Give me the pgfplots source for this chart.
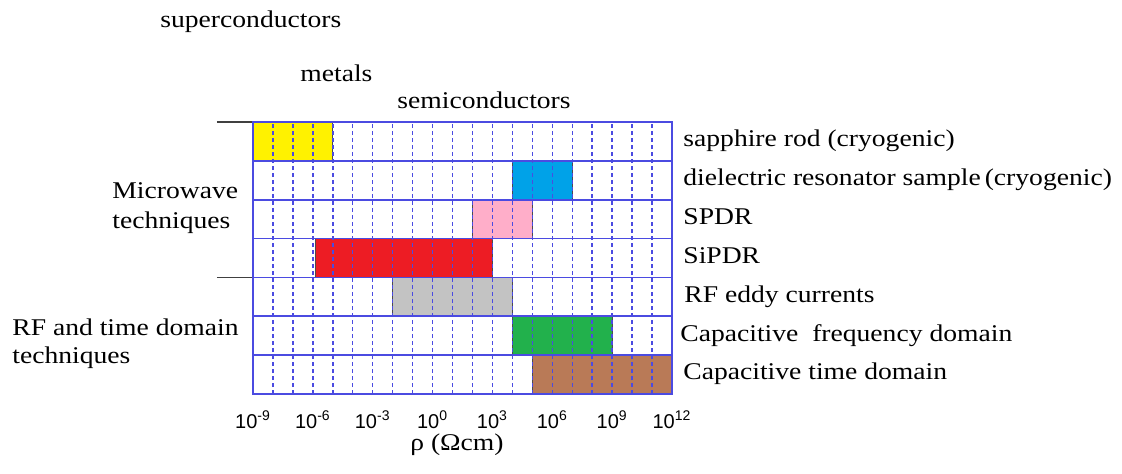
\documentclass[border=0pt]{standalone}
\usepackage{fontspec}
\setmainfont{Liberation Serif}[FakeStretch=1.15]
\setsansfont{Liberation Sans}
\usepackage{pgfplots}
\pgfplotsset{compat=1.18}

\definecolor{gridblue}{RGB}{75,75,225}
\definecolor{cyellow}{RGB}{255,242,0}
\definecolor{cblue}{RGB}{0,162,232}
\definecolor{cpink}{RGB}{255,174,201}
\definecolor{cred}{RGB}{237,28,36}
\definecolor{cgray}{RGB}{195,195,195}
\definecolor{cgreen}{RGB}{34,177,76}
\definecolor{cbrown}{RGB}{185,122,87}

\tikzset{lab/.style={anchor=west, inner sep=0pt, font=\fontsize{12}{14.5}\selectfont,
  text height=1.6ex, text depth=0.45ex}}

\begin{document}
\begin{tikzpicture}[x=1pt,y=1pt]
\useasboundingbox (0,0) rectangle (561,236.5);
\begin{axis}[
    at={(126.5pt,39.5pt)}, anchor=south west,
    scale only axis, width=209.5pt, height=136pt,
    xmode=log, xmin=1e-9, xmax=1e12,
    ymin=0, ymax=7,
    clip=false, axis on top,
    xtick={1e-9,1e-8,1e-7,1e-6,1e-5,1e-4,1e-3,1e-2,1e-1,1,1e1,1e2,1e3,1e4,1e5,1e6,1e7,1e8,1e9,1e10,1e11,1e12},
    xticklabels={10\textsuperscript{-9},,,10\textsuperscript{-6},,,10\textsuperscript{-3},,,10\textsuperscript{0},,,10\textsuperscript{3},,,10\textsuperscript{6},,,10\textsuperscript{9},,,10\textsuperscript{12}},
    ytick={0,1,2,3,4,5,6,7}, yticklabels={},
    xminorticks=false, yminorticks=false,
    major tick length=0pt,
    xmajorgrids, ymajorgrids,
    major grid style={gridblue, line width=0.7pt},
    major x grid style={gridblue, line width=0.7pt, dash pattern=on 2pt off 1.5pt},
    major y grid style={gridblue, line width=0.9pt, solid},
    axis line style={gridblue, line width=0.9pt},
    xticklabel style={font=\fontsize{10}{11}\sffamily, yshift=-5pt},
]
% sapphire rod (cryogenic)
\addplot[fill=cyellow, draw=black!70, line width=0.5pt] coordinates {(1e-9,6) (1e-5,6) (1e-5,7) (1e-9,7)} --cycle;
% dielectric resonator sample
\addplot[fill=cblue, draw=black!70, line width=0.5pt] coordinates {(1e4,5) (1e7,5) (1e7,6) (1e4,6)} --cycle;
% SPDR
\addplot[fill=cpink, draw=black!70, line width=0.5pt] coordinates {(1e2,4) (1e5,4) (1e5,5) (1e2,5)} --cycle;
% SiPDR
\addplot[fill=cred, draw=black!70, line width=0.5pt] coordinates {(1.3e-6,3) (1e3,3) (1e3,4) (1.3e-6,4)} --cycle;
% RF eddy currents
\addplot[fill=cgray, draw=black!70, line width=0.5pt] coordinates {(1e-2,2) (1e4,2) (1e4,3) (1e-2,3)} --cycle;
% capacitive frequency domain
\addplot[fill=cgreen, draw=black!70, line width=0.5pt] coordinates {(1e4,1) (1e9,1) (1e9,2) (1e4,2)} --cycle;
% capacitive time domain
\addplot[fill=cbrown, draw=black!70, line width=0.5pt] coordinates {(1e5,0) (1e12,0) (1e12,1) (1e5,1)} --cycle;

% dark top border and group separator
\draw[black!75, line width=0.8pt] (rel axis cs:-0.086,1) -- (rel axis cs:1,1);
\draw[black!75, line width=0.8pt] (rel axis cs:-0.086,3/7) -- (rel axis cs:0,3/7);

% row labels
\node[lab] at (axis cs:1e12,6.5) [xshift=5.5pt] {sapphire rod (cryogenic)};
\node[lab] at (axis cs:1e12,5.5) [xshift=5.5pt] {dielectric resonator sample\,(cryogenic)};
\node[lab] at (axis cs:1e12,4.5) [xshift=5.5pt] {SPDR};
\node[lab] at (axis cs:1e12,3.5) [xshift=5.5pt] {SiPDR};
\node[lab] at (axis cs:1e12,2.5) [xshift=6pt] {RF eddy currents};
\node[lab] at (axis cs:1e12,1.5) [xshift=4pt] {Capacitive\ \ frequency domain};
\node[lab] at (axis cs:1e12,0.5) [xshift=5.5pt] {Capacitive time domain};
\end{axis}

% group labels
\node[anchor=west, align=left, inner sep=0pt, font=\fontsize{12}{15}\selectfont] at (56,132.5) {Microwave\\techniques};
\node[anchor=west, align=left, inner sep=0pt, font=\fontsize{12}{14}\selectfont] at (6,64.5) {RF and time domain\\techniques};

% material classes
\node[anchor=west, inner sep=0pt, font=\fontsize{12}{14}\selectfont] at (80,225.5) {superconductors};
\node[anchor=west, inner sep=0pt, font=\fontsize{12}{14}\selectfont] at (150,200) {metals};
\node[anchor=west, inner sep=0pt, font=\fontsize{12}{14}\selectfont] at (198.5,186.5) {semiconductors};

% axis title
\node[inner sep=0pt, font=\fontsize{12}{14}\selectfont] at (228.5,14) {ρ (Ωcm)};
\end{tikzpicture}
\end{document}
